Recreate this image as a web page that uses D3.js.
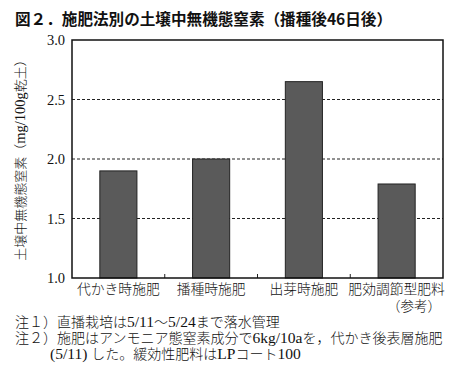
<!DOCTYPE html>
<html>
<head>
<meta charset="utf-8">
<script src="https://cdn.jsdelivr.net/npm/d3@7"></script>
<style>
  body { margin: 0; background: #fff; }
  text { fill: #111; }
</style>
</head>
<body>
<svg id="chart" width="466" height="371"></svg>
<script>
var categories = ["代かき時施肥", "播種時施肥", "出芽時施肥", "肥効調節型肥料"];
var values = [1.90, 2.00, 2.65, 1.79];
var yTicks = [1.0, 1.5, 2.0, 2.5, 3.0];
var gridTicks = [1.5, 2.0, 2.5];
var notes = [
  "注１）直播栽培は5/11～5/24まで落水管理",
  "注２）施肥はアンモニア態窒素成分で6kg/10aを，代かき後表層施肥",
  "(5/11) した。緩効性肥料はLPコート100"
];
var noteX = [15, 15, 50];

var margin = {top: 40, right: 23, bottom: 93, left: 72},
    width = 466 - margin.left - margin.right,
    height = 371 - margin.top - margin.bottom;

var svg = d3.select("#chart");

// mixed text: latin runs in a serif face, a bit larger, rest in CJK
function mixed(sel, str, size) {
  var runs = str.match(/[\x20-\x7e]+|[^\x20-\x7e]+/g);
  sel.selectAll("tspan").data(runs).enter().append("tspan")
      .attr("font-family", function(d) { return /^[\x20-\x7e]/.test(d) ? "Liberation Serif" : "Noto Sans CJK JP"; })
      .attr("font-weight", function(d) { return /^[\x20-\x7e]/.test(d) ? 400 : 300; })
      .attr("font-size", function(d) { return /^[\x20-\x7e]/.test(d) ? size * 1.11 : size; })
      .text(function(d) { return d; });
}

svg.append("text")
    .attr("x", 15)
    .attr("y", 25)
    .attr("font-family", "Noto Sans CJK JP")
    .attr("font-weight", "bold")
    .attr("font-size", 15.6)
    .text("図２．施肥法別の土壌中無機態窒素（播種後46日後）");

var g = svg.append("g")
    .attr("transform", "translate(" + margin.left + "," + margin.top + ")");

var x = d3.scaleBand().domain(categories).range([0, width]).paddingInner(0.6).paddingOuter(0.3);
var y = d3.scaleLinear().domain([1, 3]).range([height, 0]);

// dashed grid
g.selectAll(".grid").data(gridTicks).enter().append("line")
    .attr("x1", 0).attr("x2", width)
    .attr("y1", function(d) { return y(d); })
    .attr("y2", function(d) { return y(d); })
    .attr("stroke", "#222")
    .attr("stroke-width", 1)
    .attr("stroke-dasharray", "3,2");

g.selectAll(".bar").data(values).enter().append("rect")
    .attr("x", function(d, i) { return x(categories[i]); })
    .attr("y", function(d) { return y(d); })
    .attr("width", x.bandwidth())
    .attr("height", function(d) { return height - y(d); })
    .attr("fill", "#5a5a5a")
    .attr("stroke", "#222")
    .attr("stroke-width", 1);

// boundary ticks between categories
var step = width / categories.length;
g.selectAll(".sep").data(categories.slice(1)).enter().append("line")
    .attr("x1", function(d, i) { return step * (i + 1); })
    .attr("x2", function(d, i) { return step * (i + 1); })
    .attr("y1", height).attr("y2", height - 4)
    .attr("stroke", "#222");

g.append("rect")
    .attr("width", width).attr("height", height)
    .attr("fill", "none").attr("stroke", "#111").attr("stroke-width", 1.5);

var yAxis = g.append("g")
    .call(d3.axisLeft(y).tickValues(yTicks).tickFormat(d3.format(".1f")).tickSize(0).tickPadding(7));
yAxis.select(".domain").remove();
yAxis.selectAll("text")
    .attr("font-family", "Liberation Serif")
    .attr("font-size", 14.5)
    .attr("fill", "#111");

var xAxis = g.append("g")
    .attr("transform", "translate(0," + height + ")")
    .call(d3.axisBottom(x).tickSize(0).tickPadding(6));
xAxis.select(".domain").remove();
xAxis.selectAll("text")
    .attr("font-family", "Noto Sans CJK JP")
    .attr("font-weight", 300)
    .attr("font-size", 13.8)
    .attr("fill", "#111");

svg.append("text")
    .attr("x", 414)
    .attr("y", 311)
    .attr("text-anchor", "middle")
    .attr("font-family", "Noto Sans CJK JP")
    .attr("font-weight", 300)
    .attr("font-size", 13.5)
    .text("（参考）");

svg.append("text")
    .attr("transform", "translate(25," + (margin.top + height / 2 - 2) + ") rotate(-90)")
    .attr("text-anchor", "middle")
    .call(mixed, "土壌中無機態窒素（mg/100g乾土）", 13);

svg.selectAll(".note").data(notes).enter().append("text")
    .attr("x", function(d, i) { return noteX[i]; })
    .attr("y", function(d, i) { return 327 + i * 16; })
    .each(function(d) { d3.select(this).call(mixed, d, 14); });
</script>
</body>
</html>
